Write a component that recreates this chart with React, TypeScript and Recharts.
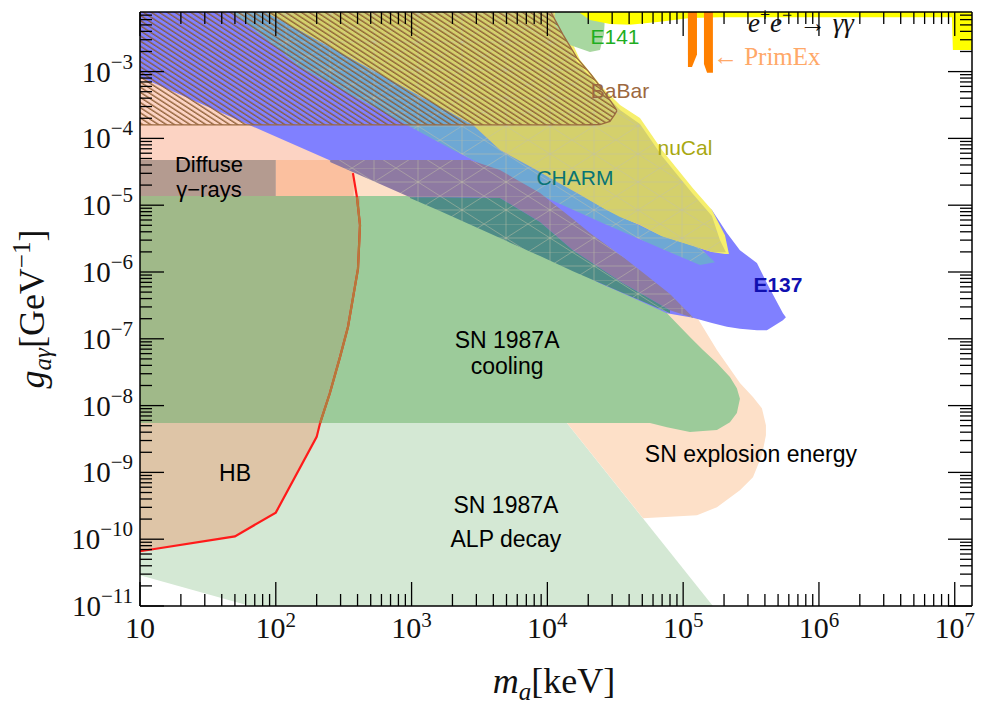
import React from "react";
import { ComposedChart, Area, Line, XAxis, YAxis, ReferenceDot } from "recharts";

const SERIF = '"Liberation Serif", "DejaVu Serif", serif';
const SANS = '"Liberation Sans", Arial, sans-serif';

// ---------- axes ----------
const X_DOMAIN = [10, 1.34e7];
const Y_DOMAIN = [1e-11, 7.8e-3];
const X_MAJOR_TICKS = [10, 1e2, 1e3, 1e4, 1e5, 1e6, 1e7];
const X_MAJOR_EXP = [1, 2, 3, 4, 5, 6, 7];
const Y_MAJOR_TICKS = [1e-11, 1e-10, 1e-9, 1e-8, 1e-7, 1e-6, 1e-5, 1e-4, 1e-3];
const Y_MAJOR_EXP = [-11, -10, -9, -8, -7, -6, -5, -4, -3];
const MINOR_MULT = [2, 3, 4, 5, 6, 7, 8, 9];

// ---------- regions: [m (keV), lower g, upper g] ----------
const alpDecay = [
  [10, 2.88e-11, 5.47e-9], [64.6, 1e-11, 5.47e-9], [13940, 1e-11, 5.47e-9], [165600, 1e-11, 1e-11],
];
const snExplosion = [
  [10, 5.47e-9, 7.8e-3], [9930, 5.47e-9, 7.8e-3], [13940, 5.47e-9, 6.7e-5], [24390, 1.33e-9, 1.2e-5],
  [50600, 2.06e-10, 2.12e-6], [126400, 2.29e-10, 2.1e-7], [177300, 3.01e-10, 6.78e-8], [261900, 5.41e-10, 2.17e-8],
  [326600, 8.48e-10, 1.34e-8], [380000, 1.81e-9, 9.16e-9], [407000, 3.61e-9, 5.1e-9],
];
const hbLower = [
  [10, 6.6e-11, 5.47e-9], [50, 1.1e-10, 5.47e-9], [100, 2.5e-10, 5.47e-9], [200, 3.4e-9, 5.47e-9], [212, 5.47e-9, 5.47e-9],
];
const snCooling = [
  [10, 5.47e-9, 1.37e-5], [57000, 5.47e-9, 1.37e-5], [76000, 4.75e-9, 2.42e-7], [112200, 4.01e-9, 1.06e-7],
  [140000, 4.16e-9, 6.78e-8], [177300, 4.3e-9, 4.33e-8], [221100, 5.65e-9, 2.67e-8], [248600, 7.72e-9, 1.82e-8],
  [261900, 1.27e-8, 1.27e-8],
];
const hbUpper = [
  [10, 5.47e-9, 1.37e-5], [212, 5.47e-9, 1.37e-5], [250, 1.53e-8, 1.37e-5], [297, 5.32e-8, 1.37e-5],
  [340, 1.5e-7, 1.37e-5], [403, 1.11e-6, 1.37e-5], [417, 5.04e-6, 1.37e-5],
];
const hbPink = [[10, 1.37e-5, 7.8e-3], [364, 1.37e-5, 7.8e-3]];
const hbBox = [[100, 1.37e-5, 4.75e-5], [375, 1.37e-5, 4.75e-5]];
const diffuseBox = [[10, 1.37e-5, 4.75e-5], [100, 1.37e-5, 4.75e-5]];
const e137 = [
  [10, 8.32e-4, 1e-2], [9930, 1.75e-6, 1e-2], [16510, 1.02e-6, 1.06e-3], [24390, 6.8e-7, 4.04e-4],
  [34280, 5.01e-7, 2.24e-4], [48100, 3.67e-7, 1.34e-4], [67500, 2.69e-7, 4.75e-5], [76000, 2.42e-7, 3.35e-5],
  [118000, 2.06e-7, 1.42e-5], [162900, 1.73e-7, 8.45e-6], [210100, 1.51e-7, 3.82e-6], [261900, 1.41e-7, 2.12e-6],
  [349300, 1.34e-7, 1.36e-6], [414000, 1.34e-7, 6.8e-7], [543000, 1.9e-7, 2.42e-7], [571000, 2.1e-7, 2.1e-7],
];
const nuCal = [
  [8831, 3.13e-5, 1e-2], [11370, 2.37e-5, 1e-2], [17370, 1.47e-5, 1.5e-3], [25660, 9.07e-6, 5.7e-4],
  [34280, 6.65e-6, 3.17e-4], [48100, 5.04e-6, 2.02e-4], [69800, 3.44e-6, 6.71e-5], [118000, 2.44e-6, 1.8e-5],
  [162900, 2.0e-6, 8.45e-6], [203200, 1.86e-6, 3.56e-6], [217300, 1.86e-6, 1.86e-6],
];
const charmBand = [
  [48.4, 7.55e-3, 1.46e-2], [86.1, 2.99e-3, 7.55e-3], [150.7, 1.17e-3, 4.07e-3], [925, 1.58e-4, 5.51e-4],
  [2018, 6.68e-5, 2.31e-4], [2831, 4.73e-5, 1.58e-4], [4477, 2.93e-5, 6.68e-5], [8831, 1.42e-5, 3.13e-5],
  [27480, 5.04e-6, 8.45e-6], [67500, 2.28e-6, 3.56e-6], [133000, 1.27e-6, 2.28e-6], [171400, 1.4e-6, 1.4e-6],
];
const charmOlive = [
  [86.1, 7.55e-3, 1e-2], [150.7, 4.07e-3, 1e-2], [925, 5.51e-4, 1e-2], [2018, 2.31e-4, 1e-2],
  [2831, 1.58e-4, 1e-2], [4477, 6.68e-5, 1e-2], [8831, 3.13e-5, 1e-2], [10450, 2.55e-5, 1e-2],
  [16510, 1.52e-5, 1.4e-3], [25660, 9.07e-6, 4.97e-4], [34280, 6.65e-6, 2.67e-4], [48100, 5.04e-6, 1.64e-4],
  [69800, 3.44e-6, 5.46e-5], [118000, 2.44e-6, 1.47e-5], [162900, 2.0e-6, 6.89e-6], [186600, 1.98e-6, 3.0e-6],
  [206500, 1.98e-6, 1.98e-6],
];
const overlapPurple = [
  [250.6, 4.44e-5, 4.75e-5], [585, 2.07e-5, 4.75e-5], [973, 1.32e-5, 4.75e-5], [2692, 1.3e-5, 4.75e-5],
  [4477, 1.28e-5, 3.35e-5], [8831, 5.58e-6, 1.52e-5], [15420, 2.12e-6, 6.21e-6], [20590, 1.44e-6, 3.82e-6],
  [36060, 6.8e-7, 1.67e-6], [48100, 4.84e-7, 1.06e-6], [80000, 2.68e-7, 4.68e-7], [118000, 2.06e-7, 2.1e-7],
];
const overlapTeal = [
  [973, 1.28e-5, 1.32e-5], [1618, 8.19e-6, 1.32e-5], [4477, 3.22e-6, 1.28e-5], [8831, 1.73e-6, 5.58e-6],
  [15420, 1.03e-6, 2.12e-6], [36060, 4.84e-7, 6.8e-7], [80000, 2.42e-7, 2.68e-7],
];
const e141 = [
  [11370, 5.01e-3, 1e-2], [14660, 2.51e-3, 1e-2], [20590, 1.97e-3, 1e-2], [24390, 2.11e-3, 1e-2],
  [26100, 3.55e-3, 1e-2], [26650, 7.8e-3, 1e-2],
];
const babar = [
  [10, 1.59e-4, 1e-2], [9930, 1.59e-4, 1e-2], [13000, 1.59e-4, 3.6e-3], [16510, 1.59e-4, 1.6e-3],
  [21000, 1.6e-4, 9.0e-4], [24390, 1.61e-4, 6.0e-4], [28900, 1.8e-4, 3.75e-4], [31480, 2.3e-4, 2.9e-4],
  [32500, 2.6e-4, 2.6e-4],
];
const eeGammaGamma = [
  [17370, 7.56e-3, 1e-2], [20590, 5.94e-3, 1e-2], [28900, 5.18e-3, 1e-2], [40550, 5.01e-3, 1e-2],
  [67500, 5.55e-3, 1e-2], [112200, 6.37e-3, 1e-2], [186600, 6.49e-3, 1e-2], [9.53e6, 6.49e-3, 1e-2],
  [9.69e6, 2.11e-3, 1e-2], [1.34e7, 2.11e-3, 1e-2],
];
const primExA = [[108400, 1.17e-3, 1e-2], [116100, 1.17e-3, 1e-2], [126400, 1.8e-3, 1e-2]];
const primExB = [[142300, 1.3e-3, 1e-2], [150000, 9.57e-4, 1e-2], [165600, 9.57e-4, 1e-2]];

// HB bound (red line): [m, g]
const hbLine = [
  [10, 6.6e-11], [50, 1.1e-10], [100, 2.5e-10], [200, 3.4e-9], [212, 5.47e-9], [250, 1.53e-8], [297, 5.32e-8],
  [340, 1.5e-7], [403, 1.11e-6], [417, 5.04e-6], [396, 1.32e-5], [370, 3.02e-5],
];

// text labels: [text, m, g, color, size, weight]
const labels = [
  ["Diffuse", 32.2, 3.14e-5, "#000", 22, 400],
  ["γ−rays", 32.2, 1.32e-5, "#000", 22, 400],
  ["SN 1987A", 5050, 7.26e-8, "#000", 23, 400],
  ["cooling", 5050, 2.96e-8, "#000", 23, 400],
  ["SN explosion energy", 315500, 1.42e-9, "#000", 23, 400],
  ["HB", 50.1, 7.38e-10, "#000", 23, 400],
  ["SN 1987A", 4955, 2.45e-10, "#000", 23, 400],
  ["ALP decay", 4955, 7.57e-11, "#000", 23, 400],
  ["E141", 31480, 2.6e-3, "#1fae1f", 21, 400],
  ["BaBar", 34280, 4.04e-4, "#9c6840", 21, 400],
  ["nuCal", 103000, 5.65e-5, "#a8a812", 21, 400],
  ["CHARM", 15950, 2.0e-5, "#087474", 21, 400],
  ["E137", 499000, 5.01e-7, "#1010b0", 21, 700],
];

const toRange = (rows) => rows.map(([m, lo, hi]) => ({ m, r: [lo, hi] }));
const toLine = (rows) => rows.map(([m, g]) => ({ m, g }));

const buildTicks = (majors, max) => {
  const out = [];
  majors.forEach((d) => {
    out.push(d);
    MINOR_MULT.forEach((k) => {
      const v = d * k;
      if (v <= max) out.push(v);
    });
  });
  return out;
};
const X_TICKS = buildTicks(X_MAJOR_TICKS, X_DOMAIN[1]);
const Y_TICKS = buildTicks(Y_MAJOR_TICKS, Y_DOMAIN[1]);
const majorIndex = (list, v) => list.findIndex((t) => Math.abs(t - v) / t < 1e-9);

const MAJ = 24;
const MIN = 12;

const BottomTick = (p) => {
  const { x, y, payload } = p;
  const i = majorIndex(X_MAJOR_TICKS, payload.value);
  const e = i >= 0 ? X_MAJOR_EXP[i] : null;
  return (
    <g>
      <line x1={x} x2={x} y1={y} y2={y - (i >= 0 ? MAJ : MIN)} stroke="#000" strokeWidth={1.3} />
      {i >= 0 && (
        <text x={x} y={y + 32} textAnchor="middle" fontFamily={SERIF} fontSize={30} fill="#111">
          10
          {e !== 1 && (
            <tspan dy={-11} fontSize={21}>
              {e}
            </tspan>
          )}
        </text>
      )}
    </g>
  );
};
const TopTick = (p) => {
  const { x, y, payload } = p;
  const i = majorIndex(X_MAJOR_TICKS, payload.value);
  return <line x1={x} x2={x} y1={y} y2={y + (i >= 0 ? MAJ : MIN)} stroke="#000" strokeWidth={1.3} />;
};
const LeftTick = (p) => {
  const { x, y, payload } = p;
  const i = majorIndex(Y_MAJOR_TICKS, payload.value);
  return (
    <g>
      <line x1={x} x2={x + (i >= 0 ? MAJ : MIN)} y1={y} y2={y} stroke="#000" strokeWidth={1.3} />
      {i >= 0 && (
        <text x={x - 7} y={y + 10} textAnchor="end" fontFamily={SERIF} fontSize={29} fill="#111">
          10
          <tspan dy={-13} fontSize={21}>
            {"−" + Math.abs(Y_MAJOR_EXP[i])}
          </tspan>
        </text>
      )}
    </g>
  );
};
const RightTick = (p) => {
  const { x, y, payload } = p;
  const i = majorIndex(Y_MAJOR_TICKS, payload.value);
  return <line x1={x} x2={x - (i >= 0 ? MAJ : MIN)} y1={y} y2={y} stroke="#000" strokeWidth={1.3} />;
};

const XTitle = (props) => {
  const vb = props.viewBox || {};
  const cx = vb.x + vb.width / 2 - 2;
  return (
    <text x={cx} y={vb.y + 87} textAnchor="middle" fontFamily={SERIF} fontSize={36} fill="#111">
      <tspan fontStyle="italic">m</tspan>
      <tspan fontStyle="italic" fontSize={25} dy={7}>a</tspan>
      <tspan dy={-7}>[keV]</tspan>
    </text>
  );
};
const YTitle = (props) => {
  const vb = props.viewBox || {};
  const cy = vb.y + vb.height / 2;
  return (
    <text transform={`translate(44, ${cy}) rotate(-90)`} x={0} y={0} textAnchor="middle" fontFamily={SERIF} fontSize={36} fill="#111">
      <tspan fontStyle="italic">g</tspan>
      <tspan fontStyle="italic" fontSize={25} dy={7}>aγ</tspan>
      <tspan dy={-7}>[GeV</tspan>
      <tspan dy={-14} fontSize={25}>−1</tspan>
      <tspan dy={14}>]</tspan>
    </text>
  );
};

const region = (key, rows, fill, extra = {}) => (
  <Area
    key={key}
    data={toRange(rows)}
    dataKey="r"
    type="linear"
    fill={fill}
    fillOpacity={1}
    stroke="none"
    dot={false}
    activeDot={false}
    isAnimationActive={false}
    {...extra}
  />
);

const axisCommon = {
  type: "number",
  scale: "log",
  allowDataOverflow: true,
  interval: 0,
  tickLine: false,
  tickSize: 0,
  tickMargin: 0,
  axisLine: { stroke: "#000", strokeWidth: 1.5 },
};

export default function App() {
  return (
    <div style={{ position: "absolute", left: 0, top: 0, width: 983, height: 704, background: "#fff" }}>
      <svg width={0} height={0} style={{ position: "absolute" }}>
        <defs>
          <pattern id="hatch" patternUnits="userSpaceOnUse" width={10} height={4.3} patternTransform="rotate(33)">
            <line x1={0} y1={1} x2={10} y2={1} stroke="#8a5a30" strokeWidth={1.3} />
          </pattern>
          {[
            ["meshOlive", "#d4d06c"],
            ["meshPurple", "#8e7aa2"],
            ["meshTeal", "#4e8c87"],
            ["meshBand", "#6ea8d4"],
          ].map(([id, c]) => (
            <pattern key={id} id={id} patternUnits="userSpaceOnUse" width={44} height={28}>
              <rect width={44} height={28} fill={c} />
              <path
                d="M0 0 H44 M0 14 H44 M0 0 L22 14 L0 28 M22 14 L44 0 M22 14 L44 28 M22 0 V28"
                stroke="#c2c0a6"
                strokeOpacity={0.6}
                strokeWidth={0.8}
                fill="none"
              />
            </pattern>
          ))}
        </defs>
      </svg>
      <ComposedChart width={983} height={704} margin={{ top: 0, right: 0, bottom: 0, left: 0 }}>
        {region("alp", alpDecay, "#d4e8d4")}
        {region("expl", snExplosion, "#fde0c8")}
        {region("hbLow", hbLower, "#dec5a7")}
        {region("cool", snCooling, "#9ccb9a")}
        {region("hbUp", hbUpper, "#a0b989")}
        {region("hbPink", hbPink, "#fcd3c3")}
        {region("hbBox", hbBox, "#fbc09f")}
        {region("diffuse", diffuseBox, "#b49b90")}
        {region("e137", e137, "#8080ff")}
        {region("nucal", nuCal, "#f6ef6c")}
        {region("charmBand", charmBand, "url(#meshBand)")}
        {region("charmOlive", charmOlive, "url(#meshOlive)")}
        {region("purple", overlapPurple, "url(#meshPurple)")}
        {region("teal", overlapTeal, "url(#meshTeal)")}
        {region("e141", e141, "#a8d7a0")}
        {region("babar", babar, "url(#hatch)", { stroke: "#9a6a40", strokeWidth: 1.3 })}
        {region("ee", eeGammaGamma, "#ffff00")}
        {region("primA", primExA, "#ff8000")}
        {region("primB", primExB, "#ff8000")}
        <Line data={toLine(hbLine)} dataKey="g" type="linear" stroke="#ff1a1a" strokeWidth={2.2} dot={false} activeDot={false} isAnimationActive={false} />
        <Line data={toLine(hbLine.slice(4, 11))} dataKey="g" type="linear" stroke="#b57a3a" strokeWidth={2.2} dot={false} activeDot={false} isAnimationActive={false} />
        {labels.map(([t, m, g, c, s, w], i) => (
          <ReferenceDot
            key={"lab" + i}
            x={m}
            y={g}
            r={0}
            ifOverflow="visible"
            shape={(p) => (
              <text x={p.cx} y={p.cy} textAnchor="middle" fontFamily={SANS} fontSize={s} fontWeight={w} fill={c}>
                {t}
              </text>
            )}
          />
        ))}
        <ReferenceDot
          x={165600}
          y={1.26e-3}
          r={0}
          ifOverflow="visible"
          shape={(p) => (
            <text x={p.cx} y={p.cy} textAnchor="start" fontFamily={SERIF} fontSize={25} fill="#ffa868">
              ← PrimEx
            </text>
          )}
        />
        <ReferenceDot
          x={300000}
          y={3.94e-3}
          r={0}
          ifOverflow="visible"
          shape={(p) => (
            <text x={p.cx} y={p.cy} textAnchor="start" fontFamily={SERIF} fontSize={27} fill="#111">
              <tspan fontStyle="italic">e</tspan>
              <tspan dy={-11} fontSize={18}>+</tspan>
              <tspan dy={11} fontStyle="italic">e</tspan>
              <tspan dy={-11} fontSize={18}>−</tspan>
              <tspan dy={11}> → </tspan>
              <tspan fontStyle="italic">γγ</tspan>
            </text>
          )}
        />
        <XAxis {...axisCommon} dataKey="m" domain={X_DOMAIN} ticks={X_TICKS} height={98} tick={(p) => <BottomTick {...p} />} label={(p) => <XTitle {...p} />} />
        <XAxis {...axisCommon} xAxisId="top" orientation="top" dataKey="m" domain={X_DOMAIN} ticks={X_TICKS} height={12} tick={(p) => <TopTick {...p} />} />
        <YAxis {...axisCommon} domain={Y_DOMAIN} ticks={Y_TICKS} width={140} tick={(p) => <LeftTick {...p} />} label={(p) => <YTitle {...p} />} />
        <YAxis {...axisCommon} yAxisId="right" orientation="right" domain={Y_DOMAIN} ticks={Y_TICKS} width={11} tick={(p) => <RightTick {...p} />} />
      </ComposedChart>
    </div>
  );
}
